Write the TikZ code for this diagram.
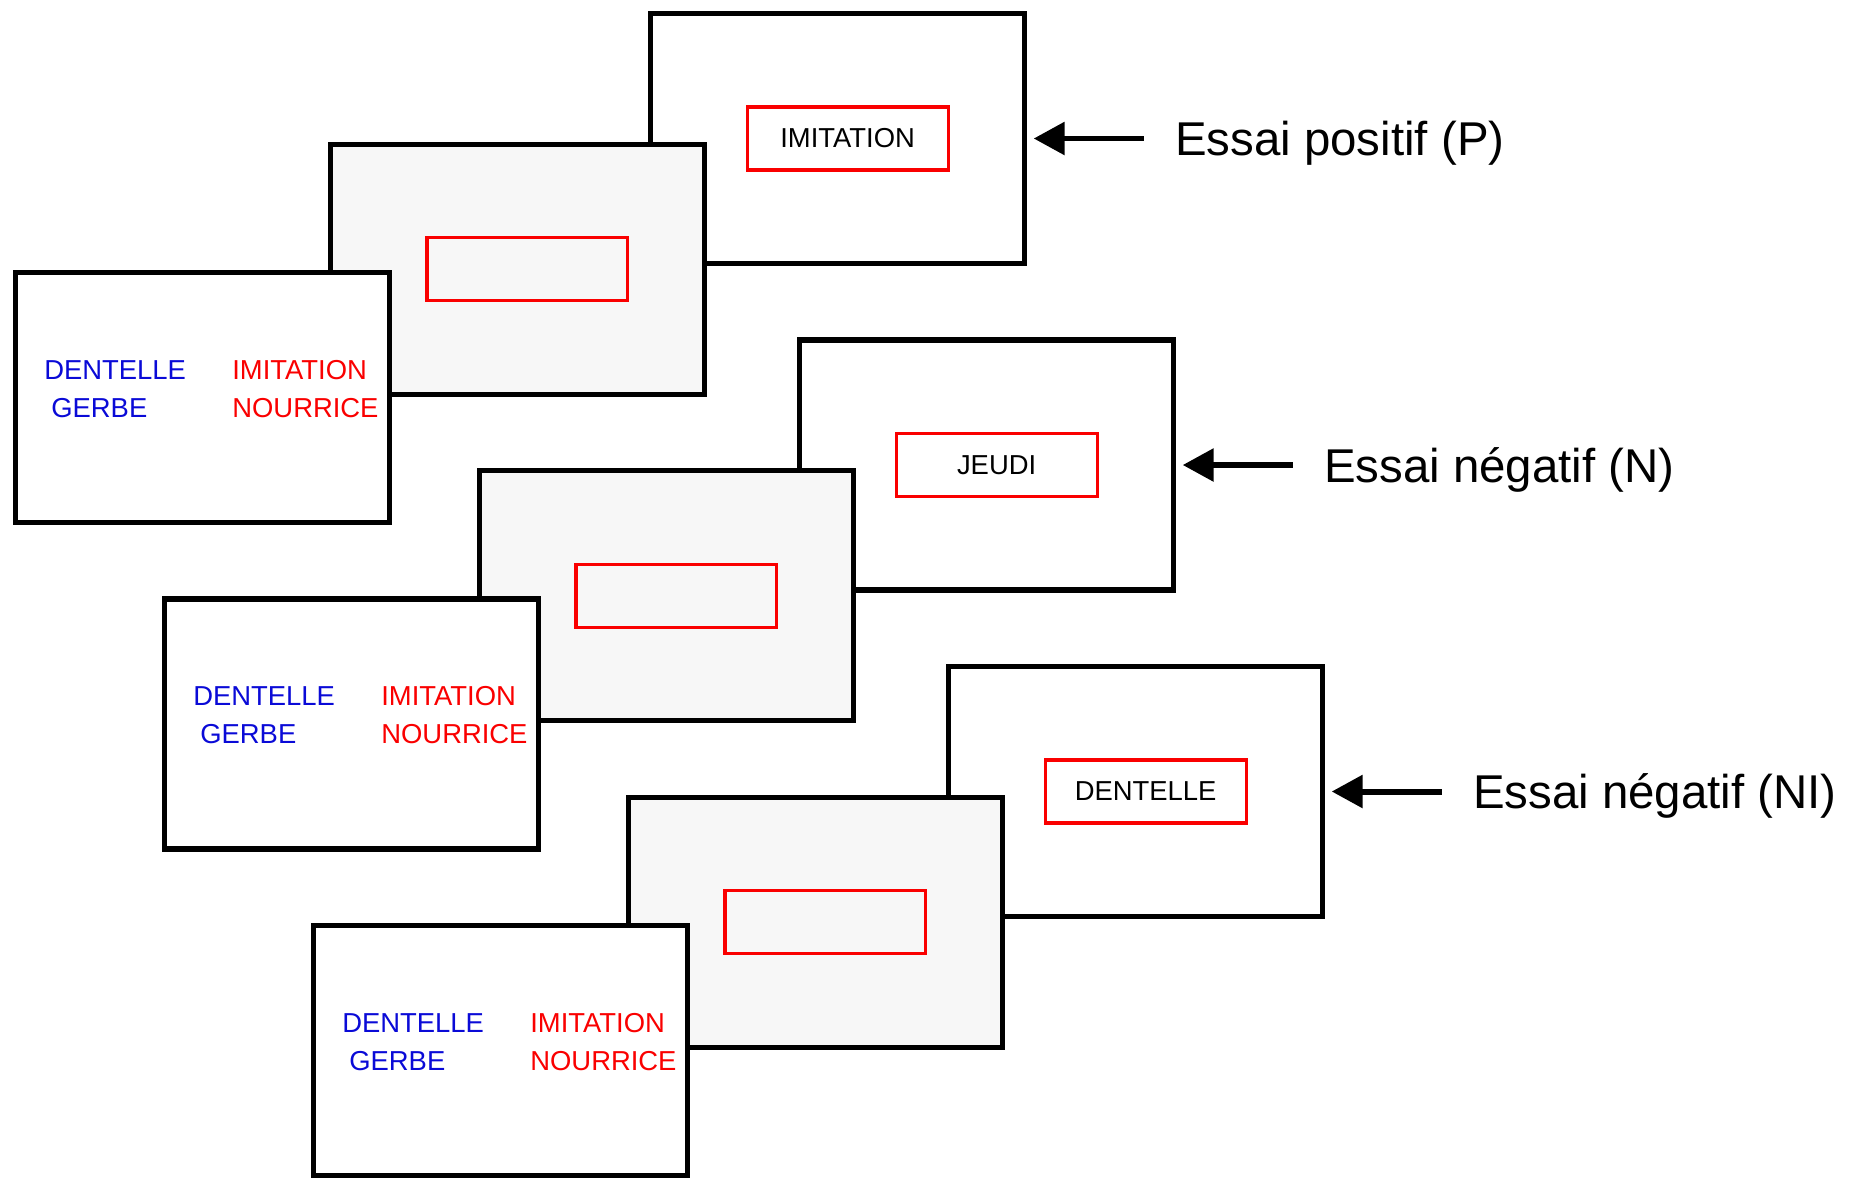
\documentclass[tikz,border=0pt]{standalone}
\usepackage{fontspec}
\setmainfont{Liberation Sans}
\usepackage{tikz}
\usetikzlibrary{
  positioning,
  arrows.meta,
  calc
}
\definecolor{pastelgray}{RGB}{247, 247, 247}
\definecolor{wordblue}{RGB}{10, 10, 215}
\definecolor{wordred}{RGB}{250, 0, 0}
\tikzset{
  frame/.style={
    draw, line width=3pt, fill=white,
    minimum width=7.48cm,
    minimum height=5.0cm,
    inner sep=0pt
  },
  maskframe/.style={frame, fill=pastelgray},
  probebox/.style={
    draw=wordred, line width=1.8pt,
    minimum width=4.02cm,
    minimum height=1.26cm,
    inner sep=0pt,
    font=\fontsize{15.6}{18}\selectfont
  },
  word/.style={font=\fontsize{15.6}{18}\selectfont, inner sep=0pt, anchor=west},
  signal/.style={-{Triangle[length=0.62cm, width=0.64cm]}, line width=3.4pt, black, shorten >=0.13cm},
  essai/.style={font=\fontsize{27}{32}\selectfont, inner sep=0pt, anchor=west, text height=19.4pt, text depth=0pt}
}

\begin{document}
\begin{tikzpicture}[x=0.02cm, y=-0.02cm]

\useasboundingbox (0, 0) rectangle (1863, 1178);

% Essai positif
\node[frame] (backP) at (837.6, 138.5) {};
\node[probebox] (probeP) at (847.6, 138.5) {IMITATION};
\node[maskframe] (midP) at (517.4, 269.3) {};
\node[probebox] (maskP) at (527.4, 269.3) {};
\node[frame] (frontP) at (202.4, 397.4) {};
\node[word, text=wordblue] (dentP) at (44, 370) {DENTELLE};
\node[word, text=wordblue] (gerbP) at (51, 408) {GERBE};
\node[word, text=wordred] (imitP) at (232, 370) {IMITATION};
\node[word, text=wordred] (nourP) at (232, 408) {NOURRICE};
\coordinate (tailP) at ([xshift=2.33cm]backP.east);
\node[essai] (lblP) at ([xshift=0.62cm]tailP) {Essai positif (P)};
\draw[signal] (tailP) -- (backP.east);

% Essai negatif (N)
\node[frame] (backN) at (986.6, 465) {};
\node[probebox] (probeN) at (996.6, 465) {JEUDI};
\node[maskframe] (midN) at (666.4, 595.8) {};
\node[probebox] (maskN) at (676.4, 595.8) {};
\node[frame] (frontN) at (351.4, 723.9) {};
\node[word, text=wordblue] (dentN) at (193, 696.5) {DENTELLE};
\node[word, text=wordblue] (gerbN) at (200, 734.5) {GERBE};
\node[word, text=wordred] (imitN) at (381, 696.5) {IMITATION};
\node[word, text=wordred] (nourN) at (381, 734.5) {NOURRICE};
\coordinate (tailN) at ([xshift=2.33cm]backN.east);
\node[essai] (lblN) at ([xshift=0.62cm]tailN) {Essai négatif (N)};
\draw[signal] (tailN) -- (backN.east);

% Essai negatif (NI)
\node[frame] (backNI) at (1135.6, 791.5) {};
\node[probebox] (probeNI) at (1145.6, 791.5) {DENTELLE};
\node[maskframe] (midNI) at (815.4, 922.3) {};
\node[probebox] (maskNI) at (825.4, 922.3) {};
\node[frame] (frontNI) at (500.4, 1050.4) {};
\node[word, text=wordblue] (dentNI) at (342, 1023) {DENTELLE};
\node[word, text=wordblue] (gerbNI) at (349, 1061) {GERBE};
\node[word, text=wordred] (imitNI) at (530, 1023) {IMITATION};
\node[word, text=wordred] (nourNI) at (530, 1061) {NOURRICE};
\coordinate (tailNI) at ([xshift=2.33cm]backNI.east);
\node[essai] (lblNI) at ([xshift=0.62cm]tailNI) {Essai négatif (NI)};
\draw[signal] (tailNI) -- (backNI.east);

\end{tikzpicture}
\end{document}
